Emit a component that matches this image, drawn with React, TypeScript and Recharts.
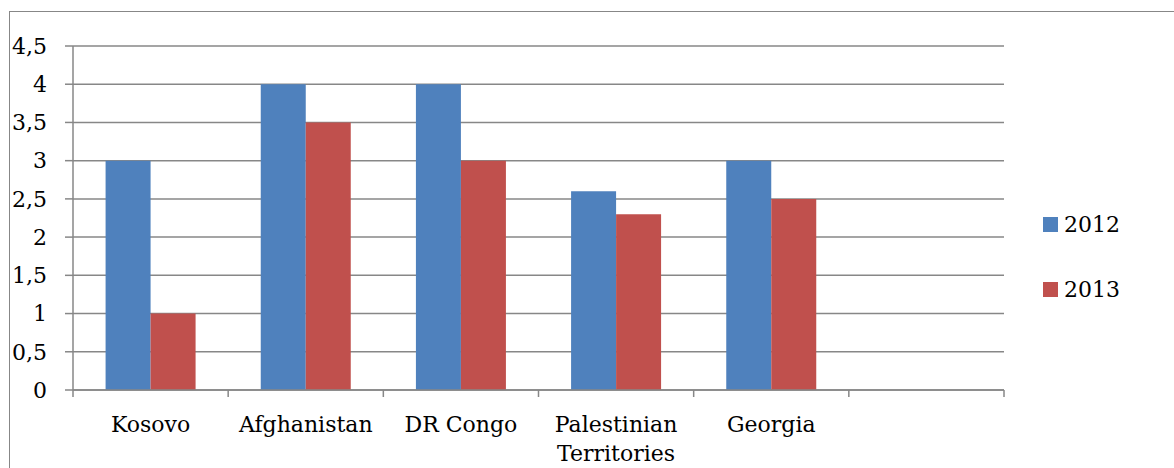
import { BarChart, Bar, XAxis, YAxis, CartesianGrid, Legend, Text } from 'recharts';

const countries = ['Kosovo', 'Afghanistan', 'DR Congo', 'Palestinian Territories', 'Georgia', ''];
const values2012 = [3, 4, 4, 2.6, 3, null];
const values2013 = [1, 3.5, 3, 2.3, 2.5, null];
const yTicks = [0, 0.5, 1, 1.5, 2, 2.5, 3, 3.5, 4, 4.5];

const data = countries.map((name, i) => ({ name, y2012: values2012[i], y2013: values2013[i] }));

const FONT = '"DejaVu Serif", serif';
const FONT_SIZE = 22;
const LINE = '#878787';
const WIDTH = 1174;
const HEIGHT = 468;
const PLOT_LEFT = 73;
const PLOT_RIGHT = 1004;
const HALF_BAND = (PLOT_RIGHT - PLOT_LEFT) / countries.length / 2;

// category label plus the boundary tick marks between categories
const CategoryTick = (props: any) => {
    const { x, y, payload, index } = props;
    const left = x - HALF_BAND;
    const right = x + HALF_BAND;
    return (
        <g>
            <line x1={left} x2={left} y1={y} y2={y + 7} stroke={LINE} strokeWidth={1.5} />
            {index === countries.length - 1 && (
                <line x1={right} x2={right} y1={y} y2={y + 7} stroke={LINE} strokeWidth={1.5} />
            )}
            <Text
                x={x}
                y={y + 26}
                width={150}
                textAnchor="middle"
                verticalAnchor="start"
                lineHeight={29}
                style={{ fontFamily: FONT, fontSize: FONT_SIZE, fill: '#000' }}
            >
                {payload.value}
            </Text>
        </g>
    );
};

const LegendBox = ({ payload }: any) => (
    <div style={{ fontFamily: FONT, fontSize: FONT_SIZE, color: '#000' }}>
        {(payload || []).map((entry: any, i: number) => (
            <div
                key={entry.value}
                style={{ display: 'flex', alignItems: 'center', height: 32, marginBottom: i === 0 ? 33 : 0 }}
            >
                <span style={{ width: 15, height: 15, background: entry.color, marginRight: 6, display: 'inline-block' }} />
                <span>{entry.value}</span>
            </div>
        ))}
    </div>
);

export default function App() {
    return (
        <div style={{ position: 'absolute', left: 0, top: 0, width: WIDTH, height: HEIGHT, overflow: 'hidden', background: '#fff' }}>
            {/* frame around the chart, open to the right and bottom */}
            <div
                style={{
                    position: 'absolute',
                    left: 9,
                    top: 11,
                    width: 1300,
                    height: 600,
                    borderTop: `1.5px solid ${LINE}`,
                    borderLeft: `1.5px solid ${LINE}`,
                }}
            />
            <div style={{ position: 'absolute', left: 0, top: 0 }}>
                <BarChart
                    width={WIDTH}
                    height={HEIGHT}
                    data={data}
                    margin={{ top: 46, right: WIDTH - PLOT_RIGHT, bottom: 0, left: 0 }}
                    barCategoryGap="21%"
                    barGap={0}
                >
                    <CartesianGrid vertical={false} stroke={LINE} strokeWidth={1.5} />
                    <XAxis
                        dataKey="name"
                        height={78}
                        interval={0}
                        axisLine={{ stroke: LINE, strokeWidth: 1.5 }}
                        tickLine={false}
                        tickSize={0}
                        tickMargin={0}
                        tick={<CategoryTick />}
                    />
                    <YAxis
                        width={PLOT_LEFT}
                        domain={[0, 4.5]}
                        ticks={yTicks}
                        interval={0}
                        axisLine={{ stroke: LINE, strokeWidth: 1.5 }}
                        tickLine={{ stroke: LINE, strokeWidth: 1.5 }}
                        tickSize={8}
                        tickMargin={18}
                        tickFormatter={(v: number) => String(v).replace('.', ',')}
                        tick={{ fill: '#000', fontSize: FONT_SIZE, fontFamily: FONT }}
                    />
                    <Legend
                        layout="horizontal"
                        align="center"
                        verticalAlign="middle"
                        content={<LegendBox />}
                        wrapperStyle={{ left: 1043, top: 208, width: 125, height: 110 }}
                    />
                    <Bar dataKey="y2012" name="2012" fill="#4F81BD" isAnimationActive={false} />
                    <Bar dataKey="y2013" name="2013" fill="#C0504D" isAnimationActive={false} />
                </BarChart>
            </div>
        </div>
    );
}
